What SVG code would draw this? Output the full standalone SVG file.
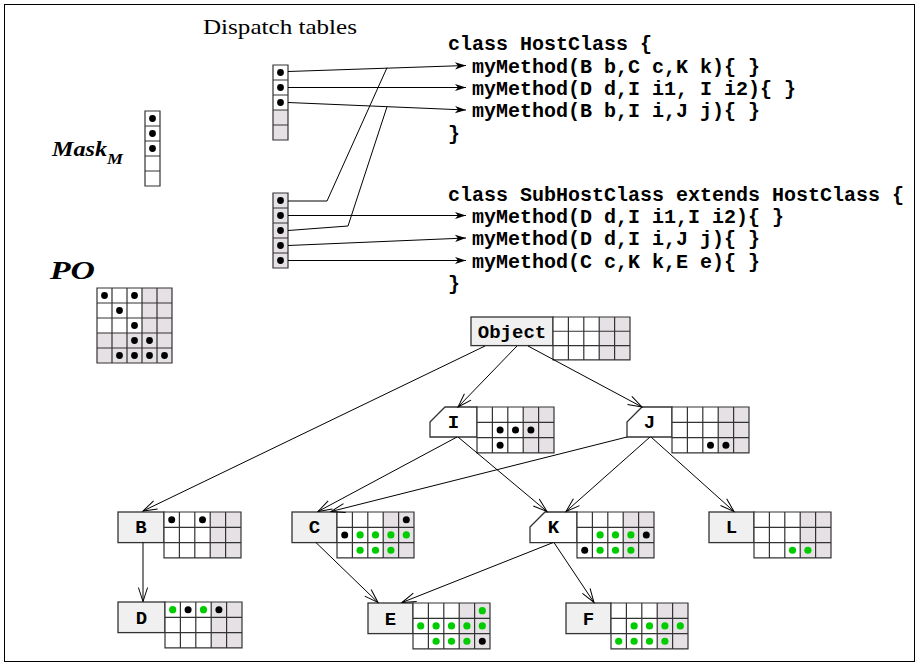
<svg xmlns="http://www.w3.org/2000/svg" xmlns:xlink="http://www.w3.org/1999/xlink" width="920" height="666" viewBox="0 0 920 666">
<style>
.code{font-family:"Liberation Mono","DejaVu Sans Mono",monospace;font-weight:bold;font-size:20px;fill:#000}
.lbl{font-family:"Liberation Mono","DejaVu Sans Mono",monospace;font-weight:bold;font-size:19px;fill:#000;text-anchor:middle}
.ser{font-family:"Liberation Serif","DejaVu Serif",serif;fill:#000}
.lb{fill:#f0f0f0;stroke:#333;stroke-width:1.3}
.lw{fill:#fff;stroke:#333;stroke-width:1.3}
.cw{fill:#fff}
.cg{fill:#e5e1e5}
.gl{fill:none;stroke:#333;stroke-width:1.2}
.bk{fill:#000}
.gn{fill:#00cc00}
.ln{fill:none;stroke:#000;stroke-width:1}
</style>
<defs>
<marker id="v" markerUnits="userSpaceOnUse" viewBox="-16 -7 18 14" refX="0" refY="0" markerWidth="18" markerHeight="14" orient="auto" overflow="visible">
<path d="M-14,-4.6 L0,0 L-14,4.6" fill="none" stroke="#000" stroke-width="1"/>
</marker>
<marker id="f" markerUnits="userSpaceOnUse" viewBox="-13 -6 15 12" refX="0" refY="0" markerWidth="15" markerHeight="12" orient="auto" overflow="visible">
<path d="M0,0 L-11,-3.6 L-8,0 L-11,3.6Z" fill="#000"/>
</marker>
<g id="grid">
<rect class="cw" x="0" y="0" width="46.2" height="45.9"/>
<rect class="cg" x="46.2" y="0" width="30.8" height="45.9"/>
<path class="gl" d="M0 0H77V45.9H0Z M15.4 0V45.9 M30.8 0V45.9 M46.2 0V45.9 M61.6 0V45.9 M0 15.3H77 M0 30.6H77"/>
</g>
</defs>
<rect x="4.5" y="4.5" width="910" height="657" fill="#fff" stroke="#000" stroke-width="1"/>

<g id="dispatch-title">
<text class="ser" x="203" y="34" font-size="22" textLength="154" lengthAdjust="spacingAndGlyphs">Dispatch tables</text>
</g>

<g id="mask">
<text class="ser" x="52" y="156" font-size="22" font-weight="bold" font-style="italic" textLength="55" lengthAdjust="spacingAndGlyphs">Mask</text>
<text class="ser" x="107" y="164" font-size="15" font-weight="bold" font-style="italic" textLength="16" lengthAdjust="spacingAndGlyphs">M</text>
<rect class="cw" x="145" y="111" width="15" height="75"/>
<path class="gl" d="M145 111H160V186H145Z M145 126H160 M145 141H160 M145 156H160 M145 171H160"/>
<circle class="bk" cx="152.5" cy="118.5" r="3.4"/>
<circle class="bk" cx="152.5" cy="133.5" r="3.4"/>
<circle class="bk" cx="152.5" cy="148.5" r="3.4"/>
</g>

<g id="po">
<text class="ser" x="50" y="279" font-size="26" font-weight="bold" font-style="italic" textLength="45" lengthAdjust="spacingAndGlyphs">PO</text>
<rect class="cw" x="97" y="288" width="75" height="75"/>
<rect class="cg" x="142" y="288" width="30" height="75"/>
<rect class="cg" x="97" y="333" width="75" height="30"/>
<path class="gl" d="M97 288H172V363H97Z M112 288V363 M127 288V363 M142 288V363 M157 288V363 M97 303H172 M97 318H172 M97 333H172 M97 348H172"/>
<circle class="bk" cx="104.5" cy="295.5" r="3.4"/>
<circle class="bk" cx="134.5" cy="295.5" r="3.4"/>
<circle class="bk" cx="119.5" cy="310.5" r="3.4"/>
<circle class="bk" cx="134.5" cy="325.5" r="3.4"/>
<circle class="bk" cx="134.5" cy="340.5" r="3.4"/>
<circle class="bk" cx="149.5" cy="340.5" r="3.4"/>
<circle class="bk" cx="119.5" cy="355.5" r="3.4"/>
<circle class="bk" cx="134.5" cy="355.5" r="3.4"/>
<circle class="bk" cx="149.5" cy="355.5" r="3.4"/>
<circle class="bk" cx="164.5" cy="355.5" r="3.4"/>
</g>

<g id="table-host">
<rect class="cw" x="273" y="65" width="15" height="45"/>
<rect class="cg" x="273" y="110" width="15" height="30"/>
<path class="gl" d="M273 65H288V140H273Z M273 80H288 M273 95H288 M273 110H288 M273 125H288"/>
<circle class="bk" cx="280.5" cy="72.5" r="3.4"/>
<circle class="bk" cx="280.5" cy="87.5" r="3.4"/>
<circle class="bk" cx="280.5" cy="102.5" r="3.4"/>
</g>

<g id="table-subhost">
<rect class="cg" x="273" y="193" width="15" height="75"/>
<path class="gl" d="M273 193H288V268H273Z M273 208H288 M273 223H288 M273 238H288 M273 253H288"/>
<circle class="bk" cx="280.5" cy="200.5" r="3.4"/>
<circle class="bk" cx="280.5" cy="215.5" r="3.4"/>
<circle class="bk" cx="280.5" cy="230.5" r="3.4"/>
<circle class="bk" cx="280.5" cy="245.5" r="3.4"/>
<circle class="bk" cx="280.5" cy="260.5" r="3.4"/>
</g>

<g id="code-host">
<text class="code" x="448" y="50">class HostClass {</text>
<text class="code" x="472" y="72.5">myMethod(B b,C c,K k){ }</text>
<text class="code" x="472" y="95">myMethod(D d,I i1, I i2){ }</text>
<text class="code" x="472" y="117">myMethod(B b,I i,J j){ }</text>
<text class="code" x="448" y="139.5">}</text>
</g>

<g id="code-subhost">
<text class="code" x="448" y="201">class SubHostClass extends HostClass {</text>
<text class="code" x="472" y="223">myMethod(D d,I i1,I i2){ }</text>
<text class="code" x="472" y="245">myMethod(D d,I i,J j){ }</text>
<text class="code" x="472" y="268">myMethod(C c,K k,E e){ }</text>
<text class="code" x="448" y="290">}</text>
</g>

<g id="node-Object">
<rect class="lb" x="471" y="317" width="82" height="28.6"/>
<use xlink:href="#grid" href="#grid" transform="translate(553 317) scale(1 0.935)"/>
<text class="lbl" x="512" y="338">Object</text>
</g>

<g id="node-I">
<path class="lw" d="M430 422L445 407H477V437H430Z"/>
<use xlink:href="#grid" href="#grid" transform="translate(477 407)"/>
<text class="lbl" x="453.5" y="428">I</text>
<circle class="bk" cx="500.1" cy="429.95" r="3.5"/>
<circle class="bk" cx="515.5" cy="429.95" r="3.5"/>
<circle class="bk" cx="530.9" cy="429.95" r="3.5"/>
<circle class="bk" cx="500.1" cy="445.25" r="3.5"/>
</g>

<g id="node-J">
<path class="lw" d="M627 422L642 407H672V437H627Z"/>
<use xlink:href="#grid" href="#grid" transform="translate(672 407)"/>
<text class="lbl" x="649.5" y="428">J</text>
<circle class="bk" cx="710.5" cy="445.25" r="3.5"/>
<circle class="bk" cx="725.9" cy="445.25" r="3.5"/>
</g>

<g id="node-B">
<rect class="lb" x="118" y="512" width="46" height="30.6"/>
<use xlink:href="#grid" href="#grid" transform="translate(164 512)"/>
<text class="lbl" x="141" y="533">B</text>
<circle class="bk" cx="171.7" cy="519.65" r="3.5"/>
<circle class="bk" cx="202.5" cy="519.65" r="3.5"/>
</g>

<g id="node-C">
<rect class="lb" x="292" y="512" width="45" height="30.6"/>
<use xlink:href="#grid" href="#grid" transform="translate(337 512)"/>
<text class="lbl" x="314.5" y="533">C</text>
<circle class="bk" cx="406.3" cy="519.65" r="3.5"/>
<circle class="bk" cx="344.7" cy="534.95" r="3.5"/>
<circle class="gn" cx="360.1" cy="534.95" r="3.6"/>
<circle class="gn" cx="375.5" cy="534.95" r="3.6"/>
<circle class="gn" cx="390.9" cy="534.95" r="3.6"/>
<circle class="gn" cx="406.3" cy="534.95" r="3.6"/>
<circle class="gn" cx="360.1" cy="550.25" r="3.6"/>
<circle class="gn" cx="375.5" cy="550.25" r="3.6"/>
<circle class="gn" cx="390.9" cy="550.25" r="3.6"/>
</g>

<g id="node-K">
<path class="lw" d="M530 527L545 512H577V542.6H530Z"/>
<use xlink:href="#grid" href="#grid" transform="translate(577 512)"/>
<text class="lbl" x="553.5" y="533">K</text>
<circle class="gn" cx="600.1" cy="534.95" r="3.6"/>
<circle class="gn" cx="615.5" cy="534.95" r="3.6"/>
<circle class="gn" cx="630.9" cy="534.95" r="3.6"/>
<circle class="bk" cx="646.3" cy="534.95" r="3.5"/>
<circle class="bk" cx="584.7" cy="550.25" r="3.5"/>
<circle class="gn" cx="600.1" cy="550.25" r="3.6"/>
<circle class="gn" cx="615.5" cy="550.25" r="3.6"/>
<circle class="gn" cx="630.9" cy="550.25" r="3.6"/>
</g>

<g id="node-L">
<rect class="lb" x="709" y="512" width="45" height="30.6"/>
<use xlink:href="#grid" href="#grid" transform="translate(754 512)"/>
<text class="lbl" x="731.5" y="533">L</text>
<circle class="gn" cx="792.5" cy="550.25" r="3.6"/>
<circle class="gn" cx="807.9" cy="550.25" r="3.6"/>
</g>

<g id="node-D">
<rect class="lb" x="118" y="602" width="47" height="30.6"/>
<use xlink:href="#grid" href="#grid" transform="translate(165 602)"/>
<text class="lbl" x="141.5" y="624">D</text>
<circle class="gn" cx="172.7" cy="609.65" r="3.6"/>
<circle class="bk" cx="188.1" cy="609.65" r="3.5"/>
<circle class="gn" cx="203.5" cy="609.65" r="3.6"/>
<circle class="bk" cx="218.9" cy="609.65" r="3.5"/>
</g>

<g id="node-E">
<rect class="lb" x="368" y="603" width="45" height="30.6"/>
<use xlink:href="#grid" href="#grid" transform="translate(413 603)"/>
<text class="lbl" x="390.5" y="625">E</text>
<circle class="gn" cx="482.3" cy="610.65" r="3.6"/>
<circle class="gn" cx="420.7" cy="625.95" r="3.6"/>
<circle class="gn" cx="436.1" cy="625.95" r="3.6"/>
<circle class="gn" cx="451.5" cy="625.95" r="3.6"/>
<circle class="gn" cx="466.9" cy="625.95" r="3.6"/>
<circle class="gn" cx="482.3" cy="625.95" r="3.6"/>
<circle class="gn" cx="436.1" cy="641.25" r="3.6"/>
<circle class="gn" cx="451.5" cy="641.25" r="3.6"/>
<circle class="gn" cx="466.9" cy="641.25" r="3.6"/>
<circle class="bk" cx="482.3" cy="641.25" r="3.5"/>
</g>

<g id="node-F">
<rect class="lb" x="566" y="603" width="45" height="30.6"/>
<use xlink:href="#grid" href="#grid" transform="translate(611 603)"/>
<text class="lbl" x="588.5" y="625">F</text>
<circle class="gn" cx="634.1" cy="625.95" r="3.6"/>
<circle class="gn" cx="649.5" cy="625.95" r="3.6"/>
<circle class="gn" cx="664.9" cy="625.95" r="3.6"/>
<circle class="gn" cx="680.3" cy="625.95" r="3.6"/>
<circle class="gn" cx="618.7" cy="641.25" r="3.6"/>
<circle class="gn" cx="634.1" cy="641.25" r="3.6"/>
<circle class="gn" cx="649.5" cy="641.25" r="3.6"/>
<circle class="gn" cx="664.9" cy="641.25" r="3.6"/>
</g>

<g id="connectors">
<path class="ln" d="M288 71.5L466 65.5" marker-end="url(#f)"/>
<path class="ln" d="M288 87.5L466 87.5" marker-end="url(#f)"/>
<path class="ln" d="M288 102.5L466 110" marker-end="url(#f)"/>
<path class="ln" d="M288 201L327 201L387 67.7"/>
<path class="ln" d="M288 215.5L466 215.5" marker-end="url(#f)"/>
<path class="ln" d="M288 230.5L348 226L387 106.8"/>
<path class="ln" d="M288 245.5L466 238" marker-end="url(#f)"/>
<path class="ln" d="M288 260.5L466 260.5" marker-end="url(#f)"/>

<path class="ln" d="M485 346L143 511" marker-end="url(#v)"/>
<path class="ln" d="M517 346L458 407" marker-end="url(#v)"/>
<path class="ln" d="M528 346L642 407" marker-end="url(#v)"/>
<path class="ln" d="M457 437L318 511.5" marker-end="url(#v)"/>
<path class="ln" d="M458 437L547 511.5" marker-end="url(#v)"/>
<path class="ln" d="M627 437L331 511.5" marker-end="url(#v)"/>
<path class="ln" d="M650 437L566 511.5" marker-end="url(#v)"/>
<path class="ln" d="M651 437L734 511.5" marker-end="url(#v)"/>
<path class="ln" d="M143 542.6L143 601.5" marker-end="url(#v)"/>
<path class="ln" d="M316 542.6L378 602.5" marker-end="url(#v)"/>
<path class="ln" d="M553 542.6L402 602.5" marker-end="url(#v)"/>
<path class="ln" d="M554 542.6L594 602.5" marker-end="url(#v)"/>
</g>
</svg>
